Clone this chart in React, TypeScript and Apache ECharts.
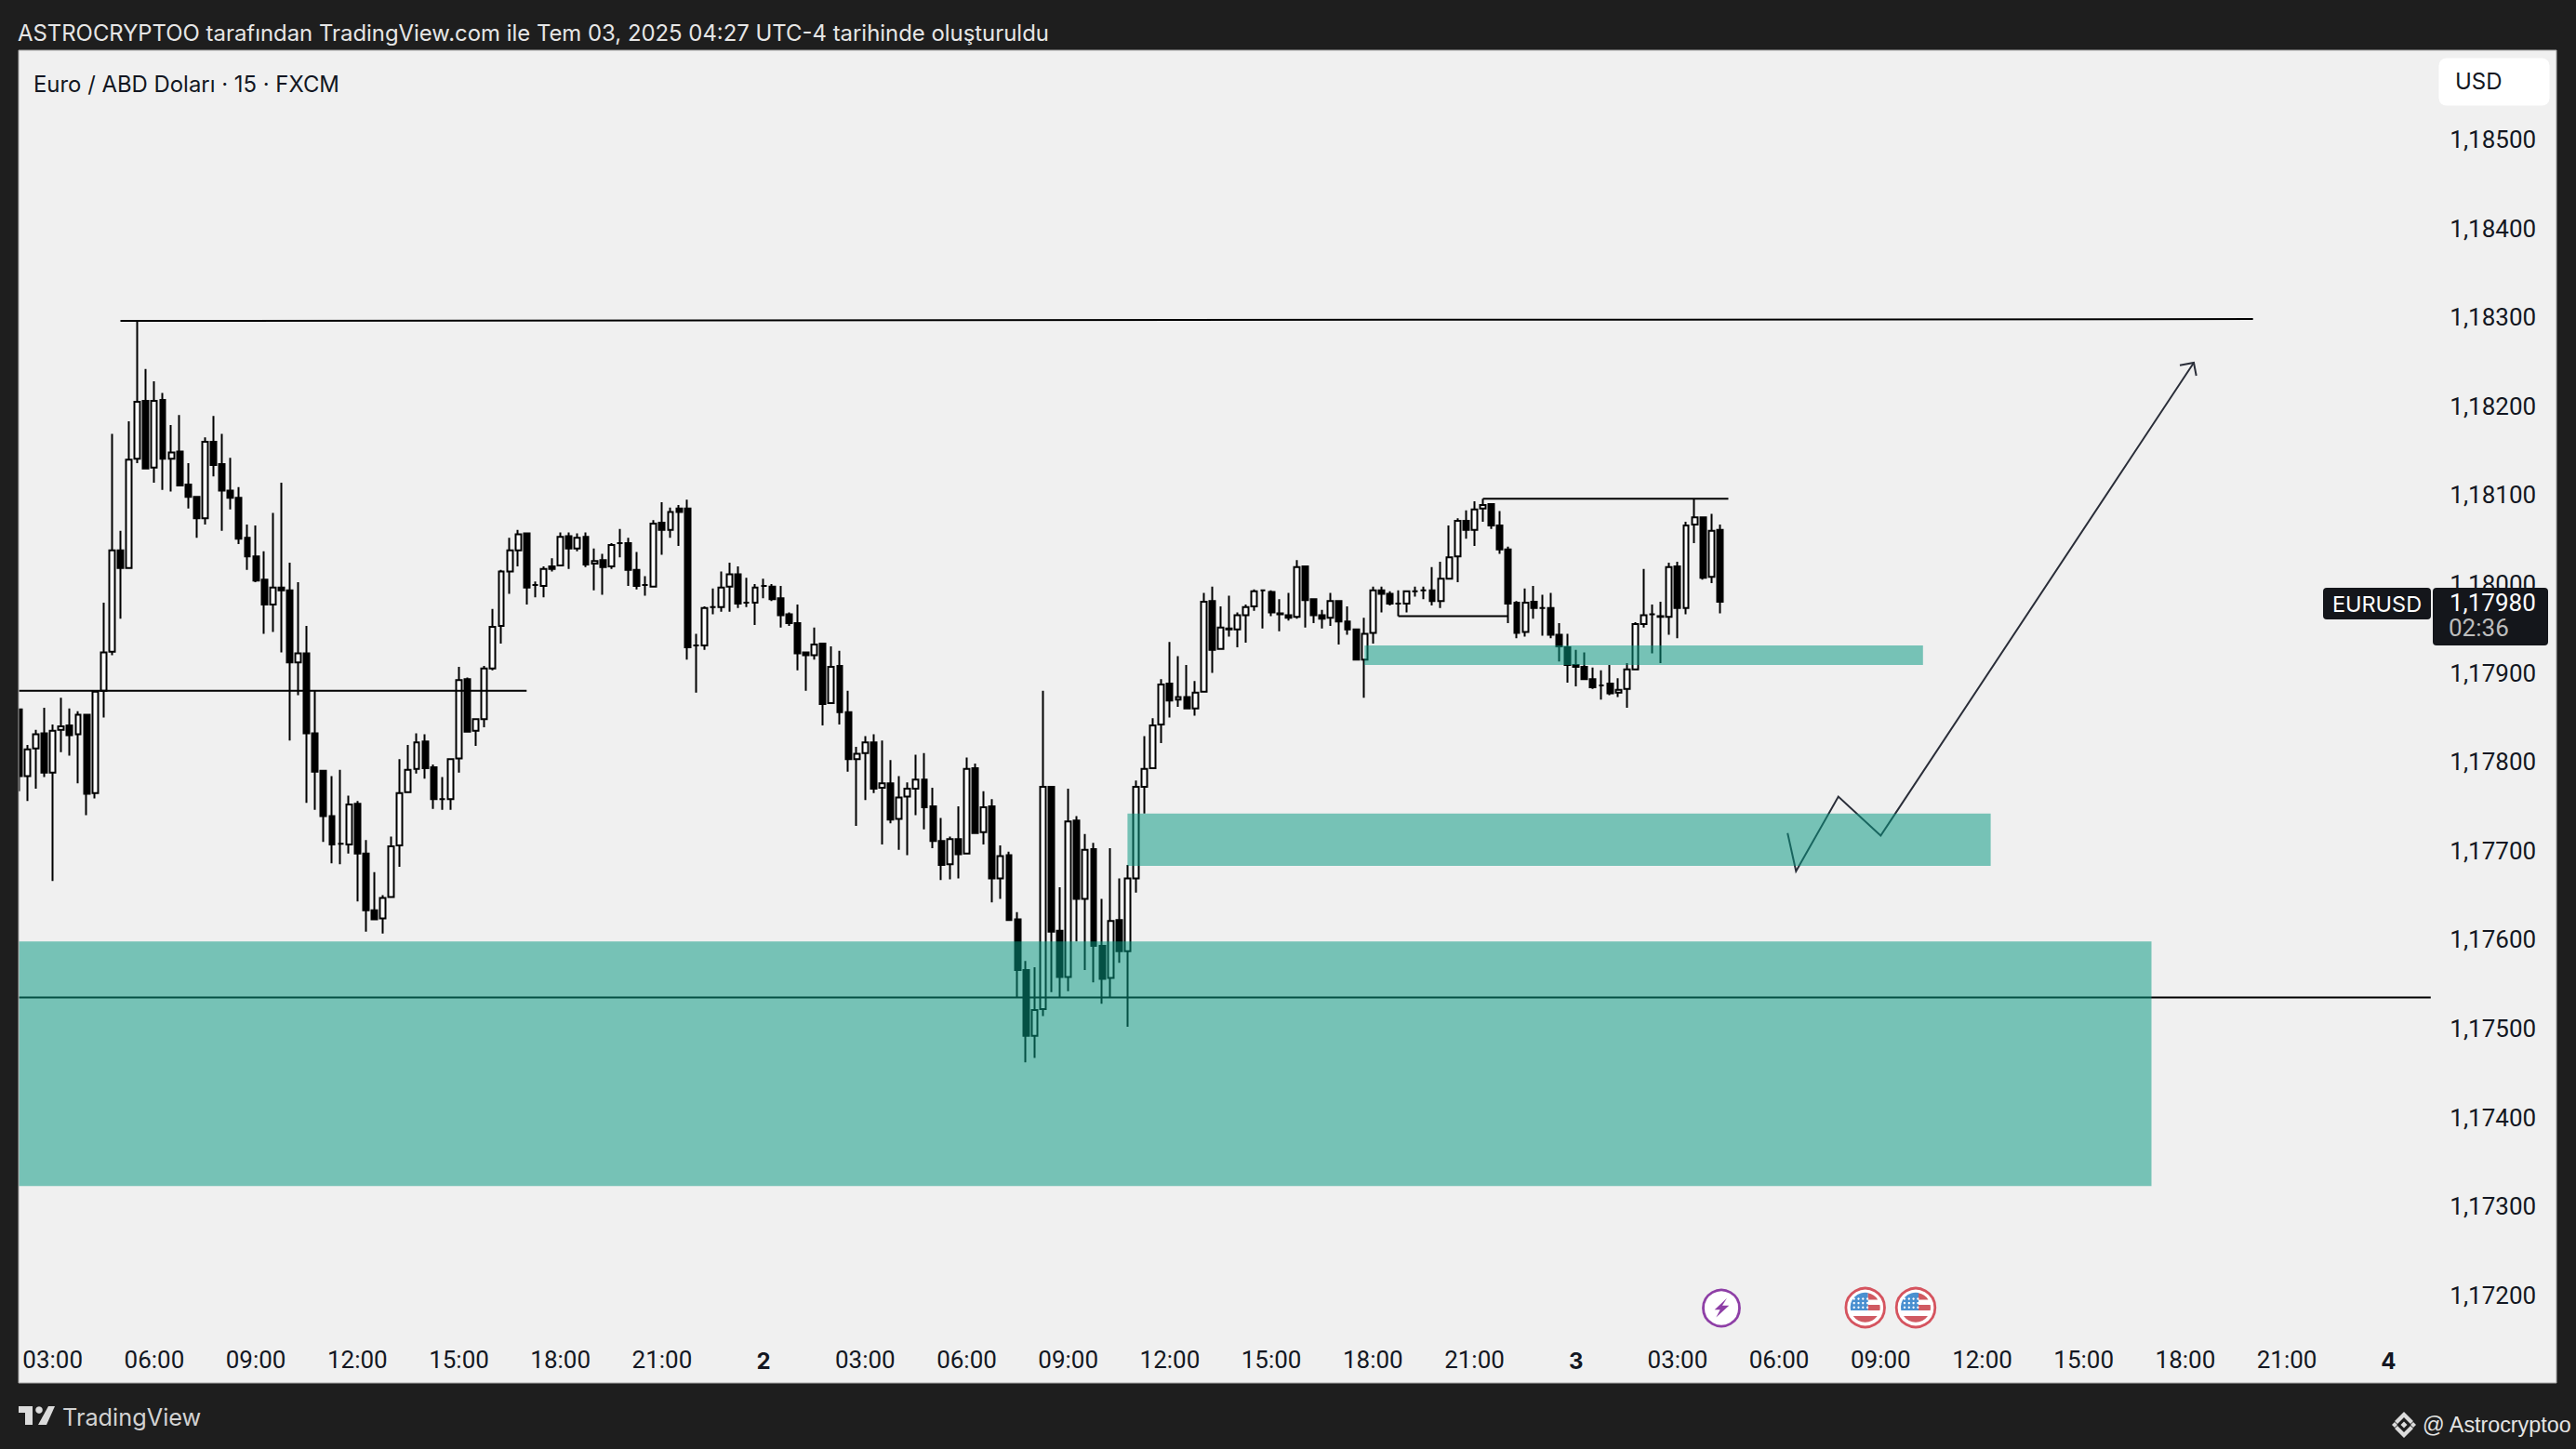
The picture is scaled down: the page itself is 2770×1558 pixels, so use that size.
import React, { useEffect, useRef } from "react";
import * as echarts from "echarts";

const timeTicks = ["03:00","06:00","09:00","12:00","15:00","18:00","21:00","2","03:00","06:00","09:00","12:00","15:00","18:00","21:00","3","03:00","06:00","09:00","12:00","15:00","18:00","21:00","4"];
const barCount = 286;
const firstTickBar = 4;
const barsPerTick = 12;

const opens = [
1.17859,1.17784,1.17815,1.17832,1.17788,1.17836,1.17841,1.17831,1.17853,1.17765,
1.17880,1.17924,1.18038,1.18018,1.18141,1.18206,1.18131,1.18207,1.18141,1.18149,
1.18112,1.18098,1.18074,1.18160,1.18135,1.18105,1.18097,1.18052,1.18031,1.18005,
1.17977,1.17996,1.17993,1.17912,1.17922,1.17832,1.17790,1.17739,1.17708,1.17707,
1.17753,1.17697,1.17633,1.17624,1.17648,1.17706,1.17766,1.17792,1.17823,1.17794,
1.17758,1.17758,1.17804,1.17893,1.17835,1.17848,1.17905,1.17953,1.18014,1.18038,
1.18057,1.17999,1.17998,1.18020,1.18021,1.18054,1.18040,1.18053,1.18023,1.18027,
1.18020,1.18046,1.18046,1.18016,1.17999,1.17997,1.18069,1.18061,1.18085,1.18085,
1.17931,1.17931,1.17974,1.17974,1.17997,1.18011,1.17979,1.17979,1.17998,1.17997,
1.17984,1.17966,1.17956,1.17923,1.17920,1.17933,1.17866,1.17908,1.17856,1.17803,
1.17810,1.17822,1.17771,1.17776,1.17736,1.17761,1.17770,1.17780,1.17750,1.17711,
1.17685,1.17713,1.17697,1.17793,1.17721,1.17750,1.17669,1.17695,1.17623,1.17566,
1.17492,1.17522,1.17772,1.17610,1.17558,1.17734,1.17646,1.17702,1.17593,1.17557,
1.17622,1.17587,1.17669,1.17772,1.17793,1.17842,1.17888,1.17870,1.17873,1.17860,
1.17879,1.17981,1.17927,1.17950,1.17949,1.17965,1.17975,1.17993,1.17991,1.17967,
1.17965,1.17963,1.18020,1.17983,1.17965,1.17962,1.17981,1.17958,1.17949,1.17915,
1.17945,1.17993,1.17989,1.17978,1.17978,1.17992,1.17993,1.17993,1.17981,1.18006,
1.18031,1.18071,1.18061,1.18085,1.18090,1.18066,1.18039,1.17979,1.17946,1.17980,
1.17973,1.17973,1.17943,1.17929,1.17909,1.17907,1.17893,1.17886,1.17888,1.17878,
1.17882,1.17904,1.17955,1.17966,1.17963,1.17963,1.18020,1.17973,1.18067,1.18075,1.18008,1.18061];

const closes = [
1.17784,1.17814,1.17831,1.17788,1.17835,1.17840,1.17830,1.17853,1.17764,1.17879,
1.17923,1.18038,1.18018,1.18140,1.18205,1.18130,1.18206,1.18141,1.18148,1.18111,
1.18098,1.18074,1.18160,1.18134,1.18105,1.18097,1.18051,1.18031,1.18004,1.17977,
1.17996,1.17993,1.17912,1.17922,1.17832,1.17789,1.17739,1.17707,1.17708,1.17752,
1.17697,1.17633,1.17623,1.17647,1.17705,1.17765,1.17791,1.17822,1.17793,1.17758,
1.17758,1.17803,1.17892,1.17834,1.17848,1.17905,1.17952,1.18014,1.18038,1.18056,
1.17996,1.17999,1.18017,1.18017,1.18053,1.18040,1.18052,1.18022,1.18026,1.18019,
1.18044,1.18046,1.18016,1.17998,1.17999,1.18068,1.18061,1.18081,1.18081,1.17929,
1.17931,1.17973,1.17974,1.17996,1.18011,1.17978,1.17979,1.17996,1.17998,1.17983,
1.17965,1.17956,1.17922,1.17920,1.17932,1.17865,1.17907,1.17856,1.17803,1.17809,
1.17822,1.17770,1.17776,1.17735,1.17760,1.17770,1.17780,1.17749,1.17711,1.17684,
1.17713,1.17696,1.17792,1.17720,1.17749,1.17669,1.17694,1.17622,1.17566,1.17492,
1.17521,1.17772,1.17609,1.17558,1.17733,1.17646,1.17701,1.17593,1.17556,1.17621,
1.17587,1.17669,1.17772,1.17792,1.17841,1.17887,1.17869,1.17873,1.17860,1.17878,
1.17980,1.17926,1.17951,1.17949,1.17965,1.17974,1.17992,1.17993,1.17968,1.17966,
1.17962,1.18019,1.17982,1.17965,1.17961,1.17981,1.17958,1.17949,1.17915,1.17944,
1.17993,1.17989,1.17978,1.17978,1.17992,1.17992,1.17993,1.17981,1.18006,1.18030,
1.18071,1.18061,1.18084,1.18089,1.18066,1.18039,1.17978,1.17945,1.17979,1.17973,
1.17973,1.17943,1.17930,1.17909,1.17907,1.17893,1.17884,1.17886,1.17877,1.17881,
1.17904,1.17955,1.17965,1.17966,1.17964,1.18019,1.17973,1.18066,1.18075,1.18007,1.18060,1.17980];

const lows = [
1.17767,1.17756,1.17770,1.17783,1.17666,1.17811,1.17807,1.17776,1.17740,1.17759,
1.17850,1.17920,1.17961,1.18018,1.18136,1.18129,1.18114,1.18106,1.18104,1.18110,
1.18085,1.18052,1.18067,1.18121,1.18060,1.18084,1.18045,1.18016,1.18002,1.17944,
1.17946,1.17923,1.17824,1.17875,1.17754,1.17746,1.17710,1.17686,1.17685,1.17697,
1.17643,1.17609,1.17623,1.17607,1.17648,1.17682,1.17766,1.17787,1.17781,1.17747,
1.17746,1.17746,1.17788,1.17834,1.17818,1.17839,1.17903,1.17933,1.17989,1.18020,
1.17977,1.17985,1.17985,1.18014,1.18021,1.18017,1.18037,1.18019,1.17993,1.17988,
1.18017,1.18030,1.17998,1.17994,1.17987,1.17997,1.18033,1.18052,1.18043,1.17915,
1.17878,1.17926,1.17966,1.17969,1.17969,1.17973,1.17974,1.17954,1.17984,1.17981,
1.17951,1.17953,1.17903,1.17880,1.17915,1.17841,1.17865,1.17842,1.17789,1.17728,
1.17757,1.17765,1.17707,1.17731,1.17701,1.17695,1.17740,1.17724,1.17703,1.17667,
1.17668,1.17669,1.17696,1.17719,1.17707,1.17642,1.17646,1.17621,1.17535,1.17462,
1.17467,1.17514,1.17541,1.17535,1.17542,1.17598,1.17566,1.17552,1.17528,1.17535,
1.17574,1.17502,1.17653,1.17742,1.17793,1.17821,1.17850,1.17862,1.17860,1.17852,
1.17879,1.17900,1.17926,1.17941,1.17929,1.17934,1.17970,1.17950,1.17964,1.17947,
1.17959,1.17961,1.17951,1.17956,1.17950,1.17953,1.17932,1.17943,1.17915,1.17872,
1.17933,1.17968,1.17976,1.17964,1.17968,1.17986,1.17983,1.17976,1.17973,1.18006,
1.18002,1.18051,1.18043,1.18070,1.18062,1.18034,1.17956,1.17939,1.17941,1.17961,
1.17942,1.17939,1.17913,1.17889,1.17885,1.17893,1.17882,1.17870,1.17875,1.17873,
1.17861,1.17904,1.17951,1.17922,1.17911,1.17943,1.17939,1.17966,1.18046,1.18005,1.18001,1.17967];

const highs = [
1.17859,1.17819,1.17836,1.17861,1.17842,1.17872,1.17860,1.17857,1.17853,1.17880,
1.17979,1.18169,1.18060,1.18183,1.18296,1.18242,1.18228,1.18215,1.18179,1.18190,
1.18136,1.18098,1.18165,1.18189,1.18169,1.18142,1.18109,1.18067,1.18066,1.18037,
1.18080,1.18114,1.18024,1.18002,1.17953,1.17880,1.17790,1.17784,1.17791,1.17762,
1.17756,1.17712,1.17676,1.17650,1.17716,1.17803,1.17819,1.17832,1.17831,1.17797,
1.17783,1.17803,1.17907,1.17895,1.17848,1.17908,1.17972,1.18016,1.18052,1.18061,
1.18057,1.18003,1.18020,1.18029,1.18058,1.18058,1.18057,1.18058,1.18040,1.18034,
1.18046,1.18062,1.18052,1.18036,1.18009,1.18072,1.18092,1.18086,1.18089,1.18095,
1.17944,1.17975,1.17995,1.18014,1.18024,1.18020,1.18007,1.18000,1.18006,1.18000,
1.17998,1.17968,1.17977,1.17924,1.17951,1.17933,1.17930,1.17925,1.17880,1.17817,
1.17829,1.17831,1.17824,1.17802,1.17784,1.17777,1.17808,1.17810,1.17771,1.17737,
1.17716,1.17750,1.17805,1.17798,1.17767,1.17758,1.17706,1.17699,1.17631,1.17576,
1.17569,1.17880,1.17772,1.17659,1.17770,1.17739,1.17719,1.17709,1.17646,1.17703,
1.17669,1.17684,1.17779,1.17829,1.17849,1.17893,1.17935,1.17919,1.17909,1.17891,
1.17990,1.17997,1.17975,1.17987,1.17968,1.17977,1.17994,1.17994,1.17993,1.17983,
1.17990,1.18027,1.18020,1.17984,1.17971,1.17990,1.17981,1.17975,1.17949,1.17962,
1.17997,1.17997,1.17992,1.17993,1.17993,1.17997,1.17997,1.18019,1.18025,1.18066,
1.18074,1.18083,1.18093,1.18096,1.18091,1.18082,1.18042,1.17981,1.17995,1.17998,
1.17988,1.17990,1.17956,1.17944,1.17926,1.17923,1.17906,1.17903,1.17909,1.17894,
1.17911,1.17957,1.18017,1.17977,1.17980,1.18024,1.18025,1.18070,1.18096,1.18075,1.18079,1.18067];

// demand zones: first bar, last bar, top price, bottom price
const zoneStartBars = [0, 131, 159];
const zoneEndBars = [252, 233, 225];
const zoneTops = [1.17598, 1.17742, 1.17931];
const zoneBottoms = [1.17323, 1.17683, 1.17909];

// horizontal drawings: [bar, price]
const rangeHighLine = [[12, 1.18296], [264, 1.18298]];
const midLine = [[0, 1.1788], [60, 1.1788]];
const supportLine = [[0, 1.17535], [285, 1.17535]];
const localHighLine = [[173, 1.18096], [202, 1.18096]];
const localLowLine = [[163, 1.17964], [176, 1.17964]];
const drawnLines = [rangeHighLine, midLine, supportLine, localHighLine, localLowLine];

// projected path with arrow head
const projectionPath = [[209, 1.1772], [210, 1.17677], [215, 1.17761], [220, 1.17717], [257, 1.18249]];

const FONT = "Inter";
const NUM_FONT = "Roboto";
const DARK = "#1e1e1e";
const INK = "#131722";

echarts.graphic.registerShape("flagBlue", echarts.graphic.extendPath("M3,-16 L3,3 L-15.7,3 A16,16 0 0 1 3,-16 Z", {}));
echarts.graphic.registerShape("flagRed", echarts.graphic.extendPath(
  "M3,-15.7 A16,16 0 0 1 13.5,-8.6 L3,-8.6 Z M3,-3 L15.7,-3 A16,16 0 0 1 15.7,3 L3,3 Z M-13,9 L13,9 A16,16 0 0 1 -13,9 Z", {}));

function flag(cx: number, cy: number) {
  const stars: any[] = [];
  for (let r = 0; r < 3; r++) {
    for (let c = 0; c < 4; c++) {
      stars.push({ type: "circle", z: 104, silent: true, shape: { cx: -12 + c * 4.8, cy: -9.5 + r * 4.6, r: 1.2 }, style: { fill: "#ffffff" } });
    }
  }
  return {
    type: "group", x: cx, y: cy, silent: true,
    children: [
      { type: "circle", z: 101, shape: { cx: 0, cy: 0, r: 20.8 }, style: { fill: "#ffffff", stroke: "#d5545f", lineWidth: 2.8 } },
      { type: "flagBlue", z: 102, style: { fill: "#4a90d0" } },
      { type: "flagRed", z: 102, style: { fill: "#d05a62" } },
      ...stars,
    ],
  };
}

function buildGraphics() {
  const panel = { l: 20, t: 54, r: 2749, b: 1487 };
  const W = 2770, H = 1558;
  const rect = (x: number, y: number, width: number, height: number, fill: string, r = 0, z = 100) => ({
    type: "rect", z, silent: true, shape: { x, y, width, height, r }, style: { fill },
  });
  const text = (t: string, x: number, y: number, size: number, fill: string, align = "left", family = FONT, z = 110) => ({
    type: "text", z, silent: true, x, y,
    style: { text: t, fill, font: `${size}px "${family}"`, textAlign: align, textVerticalAlign: "middle" },
  });
  const poly = (points: number[][], fill: string, x = 0, y = 0) => ({
    type: "polygon", z: 105, silent: true, x, y, shape: { points }, style: { fill },
  });
  const logoGrey = "#dcdcdc";
  return [
    rect(0, 0, W, panel.t, DARK),
    rect(0, panel.b, W, H - panel.b, DARK),
    rect(0, 0, panel.l, H, DARK),
    rect(panel.r, 0, W - panel.r, H, DARK),
    { type: "rect", z: 100, silent: true, shape: { x: panel.l, y: panel.t, width: panel.r - panel.l, height: panel.b - panel.t }, style: { fill: "none", stroke: "#a8a8a8", lineWidth: 1 } },
    text("ASTROCRYPTOO tarafından TradingView.com ile Tem 03, 2025 04:27 UTC-4 tarihinde oluşturuldu", 19, 35, 23.9, "#e6e6e6"),
    text("Euro / ABD Doları · 15 · FXCM", 36, 90, 23.9, "#131722"),
    rect(2622.5, 62.5, 119, 51, "#ffffff", 8),
    text("USD", 2640, 87, 24, INK),
    rect(2498, 632, 116, 34, "#14161b", 4),
    rect(2616, 632, 124, 62, "#14161b", 4),
    text("EURUSD", 2556, 649, 23.5, "#ffffff", "center"),
    text("1,17980", 2634, 648, 26, "#ffffff", "left", NUM_FONT),
    text("02:36", 2633, 675, 26, "#bdbdbd", "left", NUM_FONT),
    // event icons
    { type: "circle", z: 101, silent: true, shape: { cx: 1851, cy: 1406.5, r: 19.5 }, style: { fill: "#ffffff", stroke: "#8e3fa6", lineWidth: 2.8 } },
    poly([[6, -10.7], [-7.3, 1.7], [-1.3, 1.7], [-5.7, 10], [8.3, -2.7], [1, -2.7]], "#8e3fa6", 1851, 1406.5),
    flag(2005.7, 1406),
    flag(2060, 1406),
    // TradingView mark
    poly([[20, 1512], [35, 1512], [35, 1532], [27, 1532], [27, 1519], [20, 1519]], logoGrey),
    { type: "circle", z: 105, silent: true, shape: { cx: 42, cy: 1516, r: 3.8 }, style: { fill: logoGrey } },
    poly([[52, 1512], [59, 1512], [50, 1532], [41, 1532]], logoGrey),
    text("TradingView", 67, 1523, 25.3, "#d2d2d2"),
    // exchange mark
    poly([[0, -14], [10, -4], [7, -1], [0, -8], [-7, -1], [-10, -4]], logoGrey, 2585, 1532),
    poly([[0, 14], [10, 4], [7, 1], [0, 8], [-7, 1], [-10, 4]], logoGrey, 2585, 1532),
    poly([[-3.5, 0], [0, -3.5], [3.5, 0], [0, 3.5]], logoGrey, 2585, 1532),
    poly([[-3, 0], [0, -3], [3, 0], [0, 3]], logoGrey, 2575, 1532),
    poly([[-3, 0], [0, -3], [3, 0], [0, 3]], logoGrey, 2595, 1532),
    text("@ Astrocryptoo", 2605, 1532, 23.3, "#e4e4e4", "left", "Liberation Sans"),
  ];
}

export default function App() {
  const ref = useRef<HTMLDivElement>(null);
  useEffect(() => {
    const chart = echarts.init(ref.current!, undefined, { renderer: "svg" });
    const categories = Array.from({ length: barCount }, (_, i) => {
      const tick = (i - firstTickBar) / barsPerTick;
      return Number.isInteger(tick) && tick >= 0 && tick < timeTicks.length ? timeTicks[tick] : "";
    });
    const candleData = opens.map((o, i) => [o, closes[i], lows[i], highs[i]]);
    const zoneData = zoneStartBars.map((s, i) => [s, zoneEndBars[i], zoneTops[i], zoneBottoms[i]]);
    chart.setOption({
      animation: false,
      backgroundColor: "#f0f0f0",
      grid: { left: 15.75, top: 54.4, width: 9.1 * barCount, height: 1434, containLabel: false },
      xAxis: {
        type: "category",
        data: categories,
        boundaryGap: true,
        axisLine: { show: false },
        axisTick: { show: false },
        splitLine: { show: false },
        axisLabel: {
          inside: true,
          margin: 13,
          interval: (i: number) => categories[i] !== "",
          formatter: (v: string) => (v.includes(":") ? v : `{day|${v}}`),
          color: INK,
          fontFamily: NUM_FONT,
          fontSize: 26,
          rich: { day: { fontFamily: FONT, fontSize: 24, fontWeight: "bold", color: INK } },
        },
      },
      yAxis: {
        type: "value",
        position: "right",
        min: 1.171,
        max: 1.186,
        interval: 0.001,
        scale: true,
        axisLine: { show: false },
        axisTick: { show: false },
        splitLine: { show: false },
        axisLabel: {
          margin: 16,
          showMinLabel: false,
          showMaxLabel: false,
          color: INK,
          fontFamily: NUM_FONT,
          fontSize: 26,
          formatter: (v: number) => v.toFixed(5).replace(".", ","),
        },
      },
      series: [
        {
          type: "candlestick",
          z: 2,
          barWidth: 6.4,
          data: candleData,
          itemStyle: {
            color: "#ffffff",
            color0: "#000000",
            borderColor: "#000000",
            borderColor0: "#000000",
            borderColorDoji: "#000000",
            borderWidth: 2,
          },
        },
        ...drawnLines.map((pts) => ({
          type: "line",
          z: 3,
          data: pts,
          showSymbol: false,
          symbol: "none",
          lineStyle: { color: "#000000", width: 2 },
          silent: true,
        })),
        {
          type: "custom",
          z: 3,
          silent: true,
          data: projectionPath,
          encode: { x: 0, y: 1 },
          renderItem: (params: any, api: any) => {
            if (params.dataIndex !== projectionPath.length - 1) return { type: "group", children: [] };
            const pts = projectionPath.map((p) => api.coord(p));
            const tip = pts[pts.length - 1];
            const style = { stroke: "#2a2e39", lineWidth: 2, fill: "none" };
            return {
              type: "group",
              children: [
                { type: "polyline", shape: { points: pts }, style },
                { type: "polyline", shape: { points: [[tip[0] - 15, tip[1] + 2.7], tip, [tip[0] + 2.7, tip[1] + 14]] }, style },
              ],
            };
          },
        },
        {
          type: "custom",
          z: 4,
          silent: true,
          data: zoneData,
          encode: { x: [0, 1], y: [2, 3] },
          renderItem: (_: any, api: any) => {
            const a = api.coord([api.value(0), api.value(2)]);
            const b = api.coord([api.value(1), api.value(3)]);
            return {
              type: "rect",
              shape: { x: a[0], y: a[1], width: b[0] - a[0], height: b[1] - a[1] },
              style: { fill: "rgba(8,153,129,0.525)" },
            };
          },
        },
      ],
      graphic: buildGraphics(),
    });
    return () => chart.dispose();
  }, []);
  return <div ref={ref} style={{ position: "fixed", left: 0, top: 0, width: 2770, height: 1558 }} />;
}
